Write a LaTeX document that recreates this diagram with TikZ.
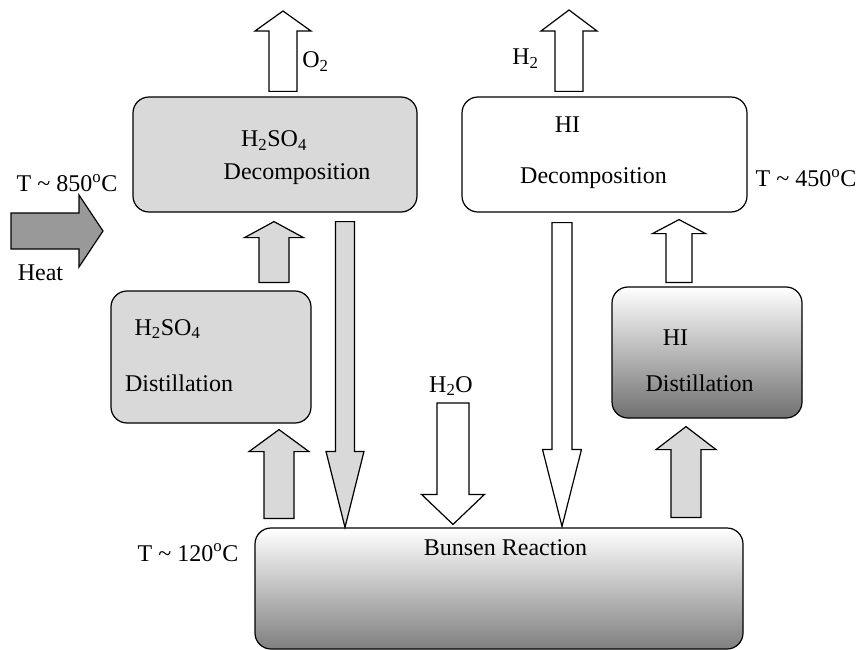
\documentclass[tikz,border=0pt]{standalone}
\usepackage{fontspec}
\setmainfont{Liberation Serif}
\usepackage{tikz}
\usetikzlibrary{calc,positioning}

% block arrow: [style] {tail} {tip} {half shaft} {half head} {head length}
\newcommand{\blockarrow}[6][]{%
  \draw[barrow,#1] let \p1=(#2), \p2=(#3),
      \n1={veclen(\x2-\x1,\y2-\y1)},
      \n2={(\x2-\x1)/\n1}, \n3={(\y2-\y1)/\n1} in
    ($(\p1)+({-(\n3)*#4},{(\n2)*#4})$) --
    ($(\p2)+({-(\n2)*#6-(\n3)*#4},{-(\n3)*#6+(\n2)*#4})$) --
    ($(\p2)+({-(\n2)*#6-(\n3)*#5},{-(\n3)*#6+(\n2)*#5})$) --
    (\p2) --
    ($(\p2)+({-(\n2)*#6+(\n3)*#5},{-(\n3)*#6-(\n2)*#5})$) --
    ($(\p2)+({-(\n2)*#6+(\n3)*#4},{-(\n3)*#6-(\n2)*#4})$) --
    ($(\p1)+({(\n3)*#4},{-(\n2)*#4})$) -- cycle;}

\begin{document}
\begin{tikzpicture}[
    x=1pt, y=-1pt,
    font=\fontsize{24}{28}\selectfont,
    box/.style={
        draw,
        rounded corners=16pt,
        line width=1.2pt,
        inner sep=0pt
    },
    greybox/.style={box, fill=black!15},
    shadebox/.style={box, top color=white, middle color=black!20, bottom color=black!#1},
    lbl/.style={anchor=base, inner sep=0pt},
    barrow/.style={draw, line width=1.2pt, line join=miter, fill=#1},
    barrow/.default=white
]
\useasboundingbox (0,0) rectangle (860,650);

%-----------------------------------
% Boxes
%-----------------------------------
\node[greybox, minimum width=284pt, minimum height=115pt] (dec1) at (275,154.5) {};
\node[box, fill=white, minimum width=285pt, minimum height=115pt] (dec2) at (604.5,154.5) {};
\node[greybox, minimum width=200pt, minimum height=132pt] (dist1) at (211,357) {};
\node[shadebox=56, minimum width=190pt, minimum height=131pt] (dist2) at (707,352.5) {};
\node[shadebox=50, minimum width=488pt, minimum height=121pt] (bun) at (499,588.5) {};

%-----------------------------------
% Box texts
%-----------------------------------
\node[lbl] (dec1a) at (274,147) {H\textsubscript{2}SO\textsubscript{4}};
\node[lbl] (dec1b) at (297,180) {Decomposition};
\node[lbl] (dec2a) at (567.5,133) {HI};
\node[lbl] (dec2b) at (593.5,183) {Decomposition};
\node[lbl] (dist1a) at (167.5,335) {H\textsubscript{2}SO\textsubscript{4}};
\node[lbl] (dist1b) at (179,391) {Distillation};
\node[lbl] (dist2a) at (675.5,345) {HI};
\node[lbl] (dist2b) at (699.5,391) {Distillation};
\node[lbl] (buna) at (505.5,555) {Bunsen Reaction};

%-----------------------------------
% Outside labels
%-----------------------------------
\node[lbl] (o2) at (315.5,68) {O\textsubscript{2}};
\node[lbl] (h2) at (525.5,65) {H\textsubscript{2}};
\node[lbl] (h2o) at (451,392) {H\textsubscript{2}O};
\node[lbl] (t850) at (67,192) {T \textasciitilde{} 850\textsuperscript{o}C};
\node[lbl] (heat) at (40.5,280) {Heat};
\node[lbl] (t450) at (806,187) {T \textasciitilde{} 450\textsuperscript{o}C};
\node[lbl] (t120) at (188,561) {T \textasciitilde{} 120\textsuperscript{o}C};

%-----------------------------------
% Free ends
%-----------------------------------
\coordinate (o2out) at (283,11);
\coordinate (h2out) at (569,10);
\coordinate (heatin) at (11,231);
\coordinate (heatout) at (103,231);
\coordinate (h2oin) at (453,403);

%-----------------------------------
% Block arrows
%-----------------------------------
\blockarrow{[xshift=8pt,yshift=5pt]dec1.north}{o2out}{14pt}{28pt}{20pt}
\blockarrow{[xshift=-35.5pt,yshift=5pt]dec2.north}{h2out}{14pt}{28pt}{21pt}
\blockarrow[barrow=black!40]{heatin}{heatout}{18pt}{36pt}{24pt}

\blockarrow[barrow=black!15]{[xshift=63pt,yshift=8pt]dist1.north}{[xshift=-1pt,yshift=-9pt]dec1.south}{15pt}{29.5pt}{16pt}
\blockarrow[barrow=black!15]{[xshift=70pt,yshift=-9pt]dec1.south}{[xshift=-154pt]bun.north}{9.5pt}{19pt}{76pt}
\blockarrow[barrow=black!15]{[xshift=-220pt,yshift=9pt]bun.north}{[xshift=68pt,yshift=-6pt]dist1.south}{15pt}{30pt}{22pt}

\blockarrow{h2oin}{[xshift=-46pt,yshift=3pt]bun.north}{16pt}{31.5pt}{30pt}
\blockarrow{[xshift=-42.5pt,yshift=-10pt]dec2.south}{[xshift=63pt,yshift=1pt]bun.north}{10pt}{19.5pt}{77pt}
\blockarrow{[xshift=-28pt,yshift=4pt]dist2.north}{[xshift=74.5pt,yshift=-7pt]dec2.south}{13pt}{26.5pt}{14pt}
\blockarrow[barrow=black!15]{[xshift=187pt,yshift=10pt]bun.north}{[xshift=-21pt,yshift=-8pt]dist2.south}{15pt}{30pt}{23pt}

\end{tikzpicture}
\end{document}
